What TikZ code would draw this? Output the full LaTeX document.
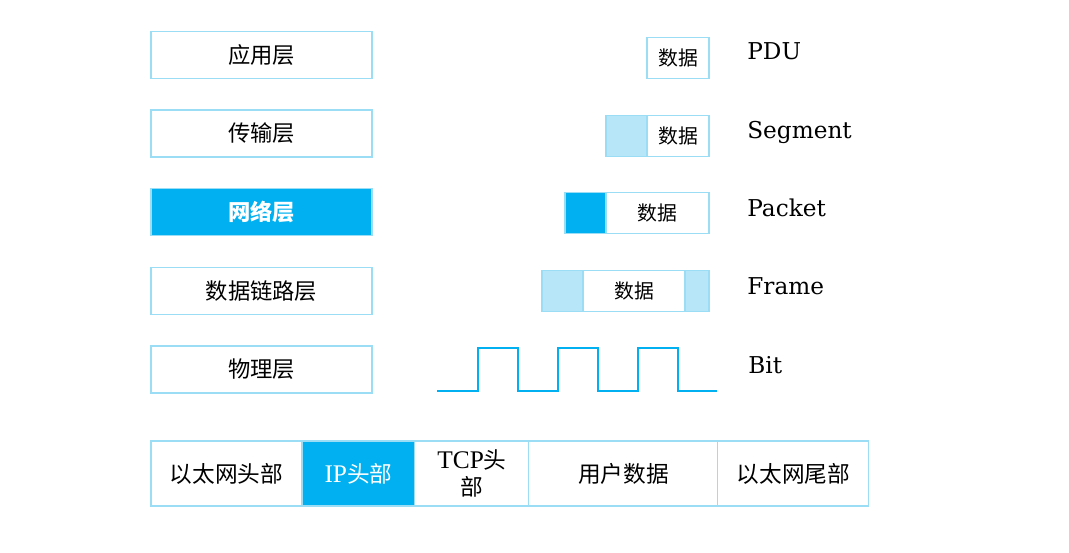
\documentclass[tikz,border=0pt]{standalone}
\usepackage{fontspec}
\setmainfont{DejaVu Serif}
\newfontfamily\cjk{Noto Sans CJK SC}
\newfontfamily\tms[Scale=1.12]{Liberation Serif}
\usetikzlibrary{positioning}
\definecolor{netblue}{HTML}{00B0F0}
\definecolor{paleblue}{HTML}{B7E6F8}
\definecolor{edgeblue}{HTML}{9ADDF5}
\tikzset{
layerbox/.style={
  rectangle,
  draw=edgeblue,
  line width=0.6pt,
  minimum width=4.42cm,
  minimum height=0.94cm,
  inner sep=0pt,
  font=\cjk\fontsize{12.7}{14}\selectfont,
  }
}
\tikzset{
databox/.style={
  rectangle,
  draw=edgeblue,
  line width=0.6pt,
  minimum height=0.82cm,
  inner sep=0pt,
  outer sep=0pt,
  font=\cjk\fontsize{11.3}{13}\selectfont,
  }
}
\tikzset{
cellbox/.style={
  rectangle,
  draw=edgeblue,
  line width=0.6pt,
  minimum height=1.3cm,
  inner sep=0pt,
  outer sep=0pt,
  align=center,
  font=\cjk\fontsize{12.9}{15}\selectfont,
  }
}
\tikzset{
pdulabel/.style={
  anchor=base west,
  inner sep=0pt,
  font=\fontsize{13.2}{15}\selectfont,
  }
}

\begin{document}
\begin{tikzpicture}[x=0.02cm,y=-0.02cm]
    \useasboundingbox (0,0) rectangle (1069,553);

    % layer part
    \node[layerbox] (app) at (261.5,55) {应用层};
    \node[layerbox] (trans) at (261.5,133.5) {传输层};
    \node[layerbox, fill=netblue, text=white, font=\cjk\bfseries\fontsize{12.7}{14}\selectfont] (net) at (261.5,212) {网络层};
    \node[layerbox] (link) at (261.5,291) {数据链路层};
    \node[layerbox] (phy) at (261.5,369.5) {物理层};

    % data part
    \node[databox, minimum width=1.24cm] (pdu_data) at (678,58) {数据};
    \node[databox, minimum width=1.24cm] (seg_data) at (678,136) {数据};
    \node[databox, minimum width=0.82cm, fill=paleblue, left=0pt of seg_data] (seg_head) {};
    \node[databox, minimum width=2.06cm] (pkt_data) at (657.5,213) {数据};
    \node[databox, minimum width=0.82cm, fill=netblue, left=0pt of pkt_data] (pkt_head) {};
    \node[databox, minimum width=2.04cm] (frm_data) at (634,291) {数据};
    \node[databox, minimum width=0.82cm, fill=paleblue, left=0pt of frm_data] (frm_head) {};
    \node[databox, minimum width=0.48cm, fill=paleblue, right=0pt of frm_data] (frm_tail) {};

    % bit part
    \draw[netblue, line width=1.2pt] (437,391)
      \foreach \x in {478,558,638} { -- (\x,391) -- (\x,348) -- (\x+40,348) -- (\x+40,391) }
      -- (717,391);

    % name part
    \node[pdulabel] (pdu) at (747,60) {PDU};
    \node[pdulabel] (seg) at (747,138.5) {Segment};
    \node[pdulabel] (pkt) at (747,216.5) {Packet};
    \node[pdulabel] (frm) at (747,295) {Frame};
    \node[pdulabel] (bit) at (748,373.5) {Bit};

    % frame layout part
    \node[cellbox, minimum width=3.02cm] (eth_head) at (226.5,473.5) {以太网头部};
    \node[cellbox, minimum width=2.26cm, fill=netblue, text=white, right=0pt of eth_head] (ip_head) {{\tms IP}头部};
    \node[cellbox, minimum width=2.28cm, right=0pt of ip_head] (tcp_head) {{\tms TCP}头\\部};
    \node[cellbox, minimum width=3.78cm, right=0pt of tcp_head] (user_data) {用户数据};
    \node[cellbox, minimum width=3.02cm, right=0pt of user_data] (eth_tail) {以太网尾部};
\end{tikzpicture}
\end{document}
